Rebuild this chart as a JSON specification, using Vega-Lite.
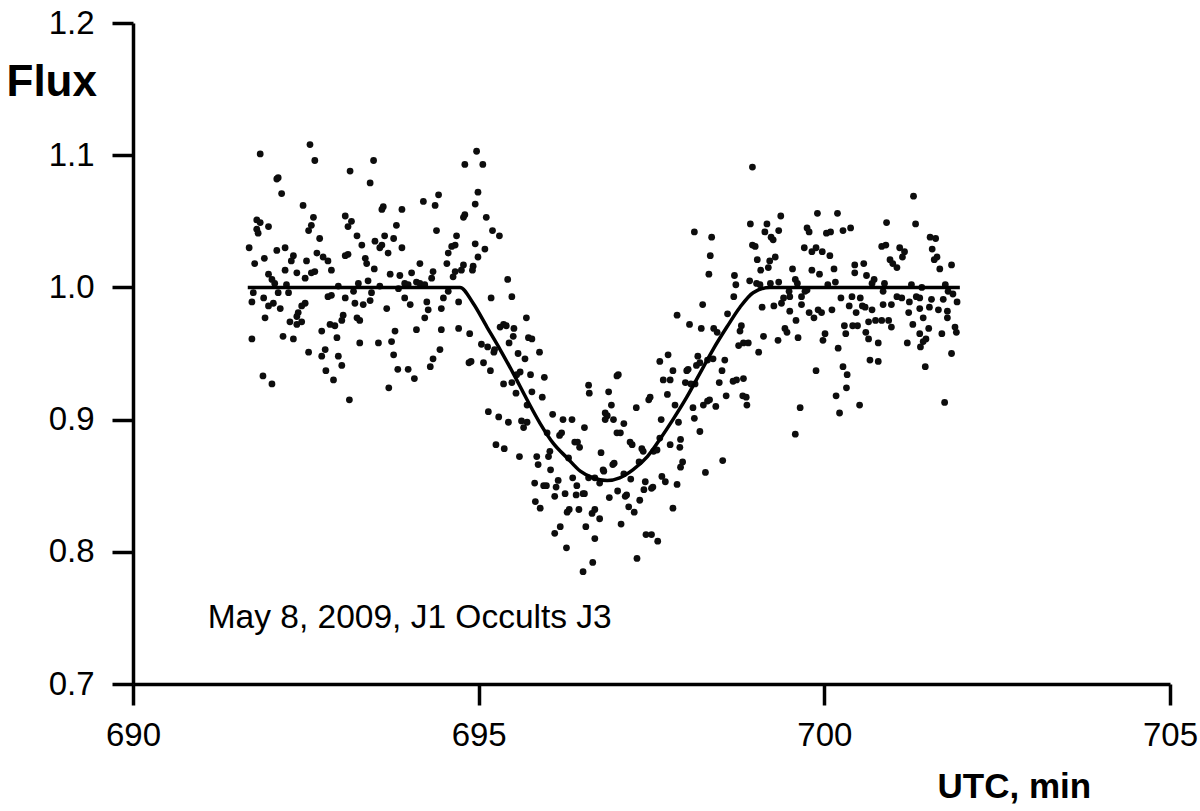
{
  "$schema": "https://vega.github.io/schema/vega-lite/v6.json",
  "width": 1037,
  "height": 661,
  "autosize": {"type": "none"},
  "padding": {"left": 133, "top": 23, "right": 30, "bottom": 127},
  "background": "white",
  "config": {
    "view": {"stroke": null},
    "font": "Liberation Sans",
    "axis": {
      "domainColor": "black", "domainWidth": 3.5, "tickColor": "black", "tickWidth": 3.5, "tickSize": 21,
      "labelColor": "black", "labelFont": "Liberation Sans", "labelFontSize": 33, "grid": false,
      "titleFont": "Liberation Sans", "titleColor": "black", "titleFontWeight": "bold"
    }
  },
  "datasets": {
    "pts": [
{"t":692.56,"f":1.108},{"t":691.84,"f":1.101},{"t":692.63,"f":1.096},{"t":693.48,"f":1.096},{"t":693.14,"f":1.088},{"t":693.43,"f":1.079},{"t":692.10,"f":1.083},{"t":692.08,"f":1.082},{"t":692.15,"f":1.071},{"t":694.80,"f":1.093},
{"t":694.97,"f":1.103},{"t":692.46,"f":1.062},{"t":693.62,"f":1.061},{"t":693.60,"f":1.059},{"t":693.89,"f":1.059},{"t":694.20,"f":1.065},{"t":694.37,"f":1.062},{"t":694.42,"f":1.070},{"t":694.99,"f":1.072},{"t":694.95,"f":1.063},
{"t":694.80,"f":1.055},{"t":694.78,"f":1.053},{"t":692.61,"f":1.053},{"t":692.58,"f":1.047},{"t":692.54,"f":1.043},{"t":691.79,"f":1.051},{"t":691.84,"f":1.049},{"t":691.79,"f":1.044},{"t":691.81,"f":1.041},{"t":691.96,"f":1.046},
{"t":693.07,"f":1.054},{"t":693.16,"f":1.050},{"t":693.11,"f":1.046},{"t":693.81,"f":1.047},{"t":693.24,"f":1.039},{"t":692.70,"f":1.037},{"t":694.39,"f":1.043},{"t":693.64,"f":1.039},{"t":693.77,"f":1.037},{"t":693.50,"f":1.035},
{"t":693.60,"f":1.032},{"t":693.57,"f":1.030},{"t":693.31,"f":1.032},{"t":693.89,"f":1.030},{"t":693.69,"f":1.026},{"t":694.68,"f":1.039},{"t":694.66,"f":1.032},{"t":694.61,"f":1.031},{"t":694.56,"f":1.026},{"t":694.95,"f":1.033},
{"t":691.68,"f":1.030},{"t":692.20,"f":1.030},{"t":692.08,"f":1.028},{"t":692.32,"f":1.024},{"t":692.29,"f":1.020},{"t":692.66,"f":1.026},{"t":692.75,"f":1.023},{"t":692.82,"f":1.020},{"t":693.07,"f":1.024},{"t":693.11,"f":1.025},
{"t":693.36,"f":1.022},{"t":693.38,"f":1.018},{"t":692.51,"f":1.020},{"t":691.90,"f":1.022},{"t":691.76,"f":1.018},{"t":694.15,"f":1.018},{"t":694.99,"f":1.023},{"t":694.92,"f":1.016},{"t":694.78,"f":1.017},{"t":694.75,"f":1.013},
{"t":694.66,"f":1.012},{"t":694.63,"f":1.008},{"t":694.54,"f":1.018},{"t":694.34,"f":1.012},{"t":693.49,"f":1.014},{"t":692.87,"f":1.013},{"t":692.63,"f":1.012},{"t":692.58,"f":1.011},{"t":692.37,"f":1.011},{"t":692.20,"f":1.013},
{"t":691.96,"f":1.010},{"t":692.01,"f":1.006},{"t":692.05,"f":1.003},{"t":692.49,"f":1.007},{"t":693.72,"f":1.010},{"t":693.86,"f":1.009},{"t":694.03,"f":1.011},{"t":693.40,"f":1.005},{"t":693.26,"f":1.003},{"t":693.93,"f":1.003},
{"t":693.98,"f":1.002},{"t":694.10,"f":1.004},{"t":694.15,"f":1.003},{"t":694.22,"f":1.002},{"t":694.32,"f":1.007},{"t":692.22,"f":1.002},{"t":692.25,"f":0.996},{"t":692.10,"f":0.996},{"t":692.97,"f":1.001},{"t":691.74,"f":0.996},
{"t":691.72,"f":0.989},{"t":691.89,"f":0.992},{"t":691.96,"f":0.986},{"t":692.03,"f":0.988},{"t":692.13,"f":0.984},{"t":692.87,"f":0.994},{"t":692.82,"f":0.993},{"t":693.07,"f":0.992},{"t":693.19,"f":0.997},{"t":693.21,"f":0.988},
{"t":693.33,"f":0.987},{"t":693.43,"f":0.990},{"t":693.45,"f":0.996},{"t":693.57,"f":1.001},{"t":693.84,"f":0.999},{"t":693.93,"f":0.992},{"t":694.01,"f":0.987},{"t":694.25,"f":0.989},{"t":694.49,"f":0.992},{"t":694.27,"f":0.983},
{"t":694.46,"f":0.984},{"t":694.56,"f":0.997},{"t":694.71,"f":0.989},{"t":693.67,"f":0.984},{"t":692.49,"f":0.988},{"t":692.44,"f":0.986},{"t":692.39,"f":0.981},{"t":692.37,"f":0.978},{"t":691.91,"f":0.977},{"t":692.27,"f":0.974},
{"t":692.37,"f":0.972},{"t":692.44,"f":0.974},{"t":693.04,"f":0.979},{"t":693.02,"f":0.975},{"t":692.85,"f":0.972},{"t":692.92,"f":0.971},{"t":693.24,"f":0.977},{"t":693.28,"f":0.975},{"t":694.22,"f":0.977},{"t":692.73,"f":0.967},
{"t":692.95,"f":0.962},{"t":693.79,"f":0.967},{"t":694.10,"f":0.968},{"t":694.46,"f":0.968},{"t":694.71,"f":0.969},{"t":694.87,"f":0.965},{"t":691.72,"f":0.961},{"t":692.17,"f":0.963},{"t":692.32,"f":0.961},{"t":693.28,"f":0.958},
{"t":693.55,"f":0.958},{"t":693.74,"f":0.959},{"t":692.54,"f":0.951},{"t":692.78,"f":0.953},{"t":692.73,"f":0.948},{"t":692.97,"f":0.948},{"t":693.77,"f":0.949},{"t":694.44,"f":0.953},{"t":694.34,"f":0.946},
{"t":691.88,"f":0.933},{"t":692.01,"f":0.927},{"t":692.79,"f":0.937},{"t":693.02,"f":0.941},{"t":692.90,"f":0.930},{"t":693.13,"f":0.915},{"t":693.83,"f":0.938},{"t":693.98,"f":0.938},{"t":694.07,"f":0.931},{"t":693.70,"f":0.924},{"t":694.30,"f":0.940},{"t":694.86,"f":0.943},
{"t":695.06,"f":1.093},{"t":695.11,"f":1.053},{"t":695.20,"f":1.043},{"t":695.30,"f":1.039},{"t":695.09,"f":1.029},{"t":694.91,"f":1.013},{"t":695.42,"f":1.006},{"t":695.48,"f":0.993},{"t":695.18,"f":0.992},{"t":695.69,"f":0.977},
{"t":695.31,"f":0.970},{"t":695.36,"f":0.972},{"t":695.40,"f":0.971},{"t":695.51,"f":0.969},{"t":695.50,"f":0.963},{"t":695.44,"f":0.958},{"t":695.72,"f":0.962},{"t":695.77,"f":0.961},{"t":695.04,"f":0.957},{"t":695.13,"f":0.955},
{"t":695.22,"f":0.951},{"t":695.23,"f":0.953},{"t":695.57,"f":0.950},{"t":695.67,"f":0.946},{"t":695.88,"f":0.951},{"t":695.07,"f":0.943},{"t":694.89,"f":0.944},{"t":695.17,"f":0.937},{"t":695.60,"f":0.936},{"t":695.55,"f":0.934},
{"t":695.75,"f":0.934},{"t":695.95,"f":0.932},{"t":697.02,"f":0.934},{"t":697.00,"f":0.933},{"t":698.12,"f":1.042},{"t":698.37,"f":1.038},{"t":698.35,"f":1.024},{"t":698.33,"f":1.010},{"t":698.24,"f":0.987},{"t":697.87,"f":0.979},
{"t":698.05,"f":0.972},{"t":698.22,"f":0.969},{"t":698.40,"f":0.969},{"t":698.45,"f":0.966},{"t":697.74,"f":0.949},{"t":697.62,"f":0.944},{"t":698.17,"f":0.948},{"t":697.81,"f":0.937},{"t":698.01,"f":0.937},{"t":698.03,"f":0.938},
{"t":698.15,"f":0.941},{"t":698.20,"f":0.943},{"t":698.31,"f":0.945},{"t":698.39,"f":0.946},{"t":697.67,"f":0.930},{"t":697.77,"f":0.930},
{"t":695.36,"f":0.927},{"t":695.48,"f":0.928},{"t":695.54,"f":0.920},{"t":695.77,"f":0.921},{"t":695.92,"f":0.917},{"t":695.70,"f":0.911},{"t":695.14,"f":0.906},{"t":695.29,"f":0.902},{"t":695.43,"f":0.898},{"t":695.62,"f":0.899},
{"t":695.70,"f":0.898},{"t":695.65,"f":0.894},{"t":696.07,"f":0.904},{"t":696.22,"f":0.900},{"t":696.35,"f":0.900},{"t":696.53,"f":0.894},{"t":696.59,"f":0.926},{"t":696.60,"f":0.920},{"t":696.88,"f":0.921},{"t":696.92,"f":0.911},
{"t":696.83,"f":0.905},{"t":696.86,"f":0.903},{"t":696.83,"f":0.900},{"t":696.95,"f":0.900},{"t":697.10,"f":0.897},{"t":697.00,"f":0.890},{"t":697.05,"f":0.890},{"t":697.28,"f":0.909},{"t":697.46,"f":0.915},{"t":697.48,"f":0.917},
{"t":697.73,"f":0.919},{"t":697.84,"f":0.911},{"t":697.64,"f":0.900},{"t":697.89,"f":0.898},{"t":698.10,"f":0.909},{"t":698.12,"f":0.901},{"t":698.20,"f":0.891},{"t":698.31,"f":0.914},{"t":698.34,"f":0.915},{"t":698.25,"f":0.911},
{"t":698.43,"f":0.910},{"t":698.48,"f":0.928},{"t":698.07,"f":0.927},{"t":698.13,"f":0.927},{"t":697.99,"f":0.928},{"t":698.53,"f":0.869},{"t":698.28,"f":0.860},{"t":696.17,"f":0.888},{"t":696.20,"f":0.890},{"t":696.39,"f":0.883},
{"t":696.43,"f":0.883},{"t":696.46,"f":0.879},{"t":695.99,"f":0.890},{"t":695.25,"f":0.881},{"t":695.37,"f":0.878},{"t":695.59,"f":0.872},{"t":695.84,"f":0.872},{"t":695.86,"f":0.866},{"t":696.03,"f":0.876},{"t":696.01,"f":0.872},
{"t":696.04,"f":0.862},{"t":696.15,"f":0.854},{"t":696.30,"f":0.871},{"t":696.36,"f":0.856},{"t":696.42,"f":0.850},{"t":696.53,"f":0.844},{"t":696.59,"f":0.856},{"t":696.68,"f":0.856},{"t":696.75,"f":0.852},{"t":696.77,"f":0.875},
{"t":696.80,"f":0.862},{"t":696.81,"f":0.861},{"t":696.96,"f":0.867},{"t":696.94,"f":0.866},{"t":697.10,"f":0.859},{"t":697.19,"f":0.883},{"t":697.22,"f":0.881},{"t":697.36,"f":0.878},{"t":697.38,"f":0.876},{"t":697.53,"f":0.876},
{"t":697.58,"f":0.877},{"t":697.32,"f":0.868},{"t":697.62,"f":0.886},{"t":697.77,"f":0.881},{"t":697.92,"f":0.885},{"t":697.91,"f":0.879},{"t":697.95,"f":0.868},{"t":697.92,"f":0.864},{"t":697.65,"f":0.857},{"t":697.70,"f":0.853},
{"t":697.87,"f":0.851},{"t":697.52,"f":0.849},{"t":697.50,"f":0.848},{"t":697.41,"f":0.853},{"t":697.39,"f":0.847},{"t":697.33,"f":0.839},{"t":697.20,"f":0.855},{"t":697.14,"f":0.843},{"t":697.12,"f":0.842},{"t":697.01,"f":0.846},
{"t":696.89,"f":0.841},{"t":695.81,"f":0.852},{"t":695.94,"f":0.850},{"t":695.98,"f":0.850},{"t":696.12,"f":0.849},{"t":696.10,"f":0.842},{"t":696.25,"f":0.844},{"t":696.41,"f":0.843},{"t":696.51,"f":0.844},{"t":695.82,"f":0.838},
{"t":695.89,"f":0.833},{"t":696.31,"f":0.832},{"t":696.28,"f":0.830},{"t":696.45,"f":0.832},{"t":696.64,"f":0.829},{"t":696.68,"f":0.832},{"t":696.75,"f":0.825},{"t":697.17,"f":0.834},{"t":697.25,"f":0.830},{"t":697.06,"f":0.821},
{"t":697.81,"f":0.833},{"t":696.18,"f":0.819},{"t":696.10,"f":0.814},{"t":696.55,"f":0.819},{"t":696.68,"f":0.810},{"t":696.27,"f":0.803},{"t":697.42,"f":0.813},{"t":697.50,"f":0.813},{"t":697.59,"f":0.808},{"t":697.29,"f":0.795},
{"t":696.65,"f":0.792},{"t":696.51,"f":0.785},
{"t":698.96,"f":1.091},{"t":701.29,"f":1.069},{"t":699.90,"f":1.056},{"t":700.19,"f":1.056},{"t":699.37,"f":1.054},{"t":698.93,"f":1.048},{"t":699.17,"f":1.048},{"t":699.34,"f":1.043},{"t":699.14,"f":1.042},{"t":699.75,"f":1.045},
{"t":699.78,"f":1.042},{"t":700.03,"f":1.041},{"t":700.09,"f":1.042},{"t":700.27,"f":1.043},{"t":700.38,"f":1.045},{"t":700.90,"f":1.049},{"t":701.32,"f":1.048},{"t":699.23,"f":1.038},{"t":699.26,"f":1.036},{"t":698.96,"f":1.032},
{"t":699.00,"f":1.031},{"t":699.71,"f":1.030},{"t":699.82,"f":1.027},{"t":699.88,"f":1.030},{"t":699.97,"f":1.027},{"t":700.08,"f":1.024},{"t":700.83,"f":1.031},{"t":700.89,"f":1.032},{"t":701.09,"f":1.030},{"t":701.16,"f":1.027},
{"t":701.13,"f":1.023},{"t":701.53,"f":1.038},{"t":701.61,"f":1.037},{"t":701.56,"f":1.029},{"t":701.63,"f":1.023},{"t":701.59,"f":1.021},{"t":701.67,"f":1.014},{"t":701.84,"f":1.017},{"t":699.03,"f":1.021},{"t":699.21,"f":1.020},
{"t":699.29,"f":1.023},{"t":699.19,"f":1.015},{"t":699.08,"f":1.013},{"t":700.95,"f":1.021},{"t":700.99,"f":1.018},{"t":701.05,"f":1.015},{"t":700.44,"f":1.017},{"t":700.57,"f":1.018},{"t":700.44,"f":1.011},{"t":700.61,"f":1.009},
{"t":699.54,"f":1.014},{"t":699.82,"f":1.013},{"t":699.93,"f":1.010},{"t":700.14,"f":1.014},{"t":698.70,"f":1.009},{"t":698.72,"f":1.002},{"t":698.92,"f":1.005},{"t":699.02,"f":1.003},{"t":699.07,"f":1.002},{"t":699.22,"f":1.003},
{"t":699.34,"f":1.004},{"t":699.58,"f":1.006},{"t":699.61,"f":1.003},{"t":700.16,"f":1.004},{"t":700.05,"f":1.002},{"t":700.72,"f":1.006},{"t":700.69,"f":1.003},{"t":700.87,"f":1.003},{"t":700.85,"f":0.997},{"t":701.26,"f":1.002},
{"t":701.41,"f":1.000},{"t":701.75,"f":1.002},{"t":701.79,"f":0.997},{"t":701.86,"f":0.995},{"t":701.92,"f":0.989},{"t":698.69,"f":0.993},{"t":699.49,"f":0.997},{"t":699.50,"f":0.993},{"t":699.41,"f":0.992},{"t":699.38,"f":0.988},
{"t":699.67,"f":0.993},{"t":699.72,"f":0.997},{"t":699.75,"f":0.998},{"t":700.24,"f":0.992},{"t":700.40,"f":0.993},{"t":700.52,"f":0.992},{"t":701.05,"f":0.993},{"t":701.12,"f":0.992},{"t":701.23,"f":0.989},{"t":701.33,"f":0.993},
{"t":701.38,"f":0.992},{"t":701.55,"f":0.991},{"t":701.72,"f":0.991},{"t":700.85,"f":0.987},{"t":700.97,"f":0.987},{"t":700.55,"f":0.986},{"t":700.59,"f":0.985},{"t":700.69,"f":0.983},{"t":700.36,"f":0.986},{"t":700.46,"f":0.981},
{"t":699.27,"f":0.986},{"t":699.10,"f":0.985},{"t":699.67,"f":0.987},{"t":699.50,"f":0.982},{"t":699.78,"f":0.981},{"t":699.85,"f":0.977},{"t":699.91,"f":0.983},{"t":699.96,"f":0.981},{"t":700.11,"f":0.983},{"t":701.22,"f":0.981},
{"t":701.38,"f":0.984},{"t":701.52,"f":0.985},{"t":701.65,"f":0.983},{"t":701.78,"f":0.982},{"t":701.78,"f":0.977},{"t":701.43,"f":0.977},{"t":699.59,"f":0.975},{"t":700.29,"f":0.971},{"t":700.41,"f":0.971},{"t":700.48,"f":0.971},
{"t":700.64,"f":0.974},{"t":700.74,"f":0.975},{"t":700.83,"f":0.975},{"t":700.93,"f":0.975},{"t":700.97,"f":0.970},{"t":701.28,"f":0.972},{"t":701.51,"f":0.969},{"t":701.89,"f":0.970},{"t":701.91,"f":0.966},{"t":699.43,"f":0.969},
{"t":699.46,"f":0.966},{"t":698.60,"f":0.980},{"t":698.80,"f":0.971},{"t":698.78,"f":0.967},{"t":699.12,"f":0.963},{"t":699.33,"f":0.960},{"t":699.62,"f":0.962},{"t":700.01,"f":0.965},{"t":699.98,"f":0.960},{"t":700.31,"f":0.965},
{"t":700.60,"f":0.966},{"t":700.64,"f":0.961},{"t":700.78,"f":0.958},{"t":701.20,"f":0.958},{"t":701.38,"f":0.965},{"t":701.47,"f":0.961},{"t":701.43,"f":0.959},{"t":701.39,"f":0.955},{"t":701.70,"f":0.965},{"t":701.84,"f":0.950},
{"t":700.20,"f":0.954},{"t":698.83,"f":0.958},{"t":698.90,"f":0.958},{"t":699.05,"f":0.951},{"t":698.76,"f":0.956},{"t":700.66,"f":0.945},{"t":700.78,"f":0.944},{"t":699.88,"f":0.937},{"t":700.27,"f":0.940},{"t":700.33,"f":0.934},
{"t":701.46,"f":0.940},{"t":698.56,"f":0.945},{"t":698.52,"f":0.937},{"t":698.83,"f":0.931},{"t":698.73,"f":0.930},
{"t":698.68,"f":0.929},{"t":698.58,"f":0.918},{"t":698.82,"f":0.918},{"t":698.87,"f":0.917},{"t":698.88,"f":0.911},{"t":699.65,"f":0.909},{"t":699.58,"f":0.889},{"t":700.32,"f":0.924},{"t":700.17,"f":0.918},{"t":700.22,"f":0.905},
{"t":700.51,"f":0.911},{"t":701.74,"f":0.913}
    ],
    "fit": [
{"t":691.66,"f":1.0},{"t":694.73,"f":1.0},{"t":694.92,"f":0.988},{"t":695.12,"f":0.970},{"t":695.31,"f":0.953},{"t":695.50,"f":0.935},{"t":695.70,"f":0.915},{"t":695.89,"f":0.897},{"t":696.08,"f":0.882},{"t":696.28,"f":0.871},
{"t":696.47,"f":0.861},{"t":696.65,"f":0.856},{"t":696.86,"f":0.854},{"t":697.04,"f":0.856},{"t":697.23,"f":0.862},{"t":697.44,"f":0.872},{"t":697.62,"f":0.885},{"t":697.81,"f":0.900},{"t":698.01,"f":0.917},{"t":698.20,"f":0.935},
{"t":698.39,"f":0.953},{"t":698.59,"f":0.970},{"t":698.78,"f":0.985},{"t":698.97,"f":0.996},{"t":699.21,"f":1.0},{"t":701.96,"f":1.0}
    ]
  },
  "layer": [
    {
      "data": {"name": "pts"},
      "mark": {"type": "point", "shape": "circle", "filled": true, "size": 46, "color": "#0d0d0d", "opacity": 1},
      "encoding": {
        "x": {"field": "t", "type": "quantitative", "scale": {"domain": [690, 705], "nice": false, "zero": false},
          "axis": {"values": [690, 695, 700, 705], "format": "d", "labelPadding": 14, "title": "UTC, min", "titleFontSize": 35,
            "titleX": 804, "titleY": 113, "titleAlign": "left", "titleBaseline": "alphabetic", "labelFlush": false}},
        "y": {"field": "f", "type": "quantitative", "scale": {"domain": [0.7, 1.2], "nice": false, "zero": false},
          "axis": {"values": [0.7, 0.8, 0.9, 1.0, 1.1, 1.2], "format": ".1f", "labelPadding": 18, "title": "Flux", "titleFontSize": 44,
            "titleAngle": 0, "titleX": -127, "titleY": 72, "titleAlign": "left", "titleBaseline": "alphabetic", "labelFlush": false}}
      }
    },
    {
      "data": {"name": "fit"},
      "mark": {"type": "line", "color": "black", "strokeWidth": 3.5, "interpolate": "monotone"},
      "encoding": {
        "x": {"field": "t", "type": "quantitative"},
        "y": {"field": "f", "type": "quantitative"}
      }
    },
    {
      "data": {"values": [{"label": "May 8, 2009, J1 Occults J3"}]},
      "mark": {"type": "text", "align": "left", "baseline": "alphabetic", "fontSize": 33.5, "font": "Liberation Sans", "color": "black"},
      "encoding": {
        "x": {"datum": 691.08},
        "y": {"datum": 0.7424},
        "text": {"field": "label"}
      }
    }
  ]
}
